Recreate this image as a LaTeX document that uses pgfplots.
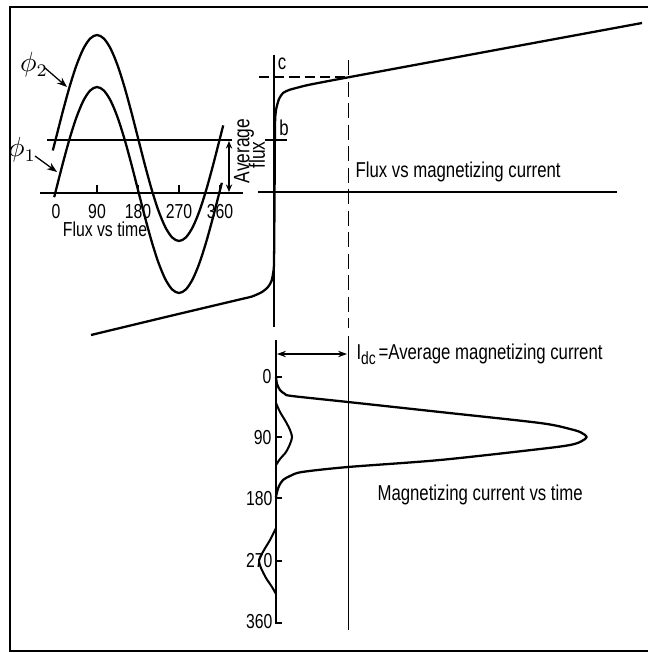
\documentclass[border=0pt]{standalone}
\usepackage{fontspec}
\setmainfont{Liberation Sans}
\usepackage{graphicx}
\usepackage{pgfplots}
\pgfplotsset{compat=1.18}
\usetikzlibrary{arrows.meta}
% condensed lettering, size in pt as optional argument
\newcommand\nt[2][8.5]{\fontsize{#1}{#1}\selectfont\scalebox{0.78}[1]{#2}}

\begin{document}
\begin{tikzpicture}
\begin{axis}[
    width=9cm, height=9.069cm, scale only axis,
    xmin=0, xmax=648, ymin=0, ymax=653, y dir=reverse,
    hide axis, clip=false,
]
% page extent
\addplot[draw=none] coordinates {(0,0) (648,653)};
% frame
\addplot[line width=0.8pt] coordinates {(648,7) (10,7) (10,651) (648,651)};

% ---- flux vs time (top left) ----
\addplot[line width=0.6pt] coordinates {(40,193) (243,193)};
\addplot[line width=0.6pt] coordinates {(47,140) (232,140)};
\addplot[line width=0.5pt] coordinates {(97,193) (97,185)};
\addplot[line width=0.5pt] coordinates {(138,193) (138,185)};
\addplot[line width=0.5pt] coordinates {(179,193) (179,185)};
\addplot[line width=0.5pt] coordinates {(220,193) (220,185)};
\addplot[line width=0.5pt, {Stealth[length=3pt,width=2.5pt]}-{Stealth[length=3pt,width=2.5pt]}]
    coordinates {(229,141) (229,192)};
% phi1
\addplot[line width=0.9pt, smooth] coordinates {
(54.2,197.2) (56,190) (62.83,163.34) (69.67,138.5) (76.5,117.17) (83.33,100.8)
(90.17,90.51) (97,87) (103.83,90.51) (110.67,100.8) (117.5,117.17) (124.33,138.5)
(131.17,163.34) (138,190) (144.83,216.66) (151.67,241.5) (158.5,262.83) (165.33,279.2)
(172.17,289.49) (179,293) (185.83,289.49) (192.67,279.2) (199.5,262.83) (206.33,241.5)
(213.17,216.66) (220,190) (221.8,182.8)
};
% phi2
\addplot[line width=0.9pt, smooth] coordinates {
(52.8,150.5) (56,138) (62.83,111.34) (69.67,86.5) (76.5,65.17) (83.33,48.8)
(90.17,38.51) (97,35) (103.83,38.51) (110.67,48.8) (117.5,65.17) (124.33,86.5)
(131.17,111.34) (138,138) (144.83,164.66) (151.67,189.5) (158.5,210.83) (165.33,227.2)
(172.17,237.49) (179,241) (185.83,237.49) (192.67,227.2) (199.5,210.83) (206.33,189.5)
(213.17,164.66) (220,138) (223.2,125.4)
};
% label arrows
\addplot[line width=0.5pt, -{Stealth[length=4pt,width=3pt]}] coordinates {(45,68) (67,87)};
\addplot[line width=0.5pt, -{Stealth[length=4pt,width=3pt]}] coordinates {(35,156) (57,172)};
\node[inner sep=0pt] at (axis cs:34,65) {\fontsize{10.5}{12}\selectfont$\phi_2$};
\node[inner sep=0pt] at (axis cs:22,150) {\fontsize{10.5}{12}\selectfont$\phi_1$};
\node[inner sep=0pt] at (axis cs:56,212) {\nt[8]{0}};
\node[inner sep=0pt] at (axis cs:97,212) {\nt[8]{90}};
\node[inner sep=0pt] at (axis cs:138,212) {\nt[8]{180}};
\node[inner sep=0pt] at (axis cs:179,212) {\nt[8]{270}};
\node[inner sep=0pt] at (axis cs:220,212) {\nt[8]{360}};
\node[inner sep=0pt] at (axis cs:105,229) {\nt[8]{Flux vs time}};
\node[inner sep=0pt, rotate=90] at (axis cs:244,151) {\nt[8.8]{Average}};
\node[inner sep=0pt, rotate=90] at (axis cs:257,155) {\nt[8.8]{flux}};

% ---- flux vs magnetizing current ----
\addplot[line width=0.6pt] coordinates {(274,55) (274,327)};
\addplot[line width=0.6pt] coordinates {(258,192) (617,192)};
\addplot[line width=0.5pt] coordinates {(265,140) (287,140)};
\addplot[line width=0.4pt, dash pattern=on 4pt off 2pt] coordinates {(259,77) (347,77)};
\addplot[line width=0.4pt, dash pattern=on 6pt off 2.5pt] coordinates {(348,60) (348,328)};
\addplot[line width=0.9pt, smooth, tension=0.4] coordinates {
(91,335) (170,316) (240,299.4) (252,296.5) (262,292) (268,287) (271.5,281)
(273.3,272) (274,262) (274.5,200) (275,125) (276,110) (279,99) (283,93)
(289,90) (298,87.5) (310,84.6) (350,77) (500,49.2) (642,23)
};
\node[inner sep=0pt] at (axis cs:282,64) {\nt{c}};
\node[inner sep=0pt] at (axis cs:284,128) {\nt{b}};
\node[inner sep=0pt, anchor=west] at (axis cs:355,172) {\nt{Flux vs magnetizing current}};

% ---- magnetizing current vs time ----
\addplot[line width=0.6pt] coordinates {(276,340) (276,623) (282,623)};
\addplot[line width=0.5pt] coordinates {(276,377) (282,377)};
\addplot[line width=0.5pt] coordinates {(276,437) (282,437)};
\addplot[line width=0.5pt] coordinates {(276,498) (282,498)};
\addplot[line width=0.5pt] coordinates {(276,561) (282,561)};
\addplot[line width=0.4pt] coordinates {(348,336) (348,630)};
\addplot[line width=0.5pt, {Stealth[length=3.5pt,width=2.5pt]}-{Stealth[length=3.5pt,width=2.5pt]}]
    coordinates {(277,354) (347,354)};
\addplot[line width=0.9pt, smooth, tension=0.5] coordinates {
(276,377) (277,384) (280,390) (285,394) (292,396) (348,402) (440,412) (540,423)
(570,429) (581,432.5) (586.5,437) (581,441.5) (570,445) (540,449) (440,460)
(348,467) (302,472) (290,476) (283,480) (279,486) (277,492) (276,497)
};
\addplot[line width=0.8pt, smooth] coordinates {
(276,403) (280,412) (286,422) (290,430) (292,437) (290,444) (286,452) (280,459) (276,465)
};
\addplot[line width=0.8pt, smooth, tension=0.4] coordinates {
(276,528) (270,540) (264,550) (259,560) (261,568) (266,578) (272,587) (276,594)
};
\node[inner sep=0pt, anchor=east] at (axis cs:272,377) {\nt[8]{0}};
\node[inner sep=0pt, anchor=east] at (axis cs:272,438) {\nt[8]{90}};
\node[inner sep=0pt, anchor=east] at (axis cs:273,499) {\nt[8]{180}};
\node[inner sep=0pt, anchor=east] at (axis cs:273,561) {\nt[8]{270}};
\node[inner sep=0pt, anchor=east] at (axis cs:273,622) {\nt[8]{360}};
\node[inner sep=0pt, anchor=west] at (axis cs:356,354) {\nt{I\raisebox{-0.45ex}{\fontsize{7}{7}\selectfont dc}\,=Average magnetizing current}};
\node[inner sep=0pt, anchor=west] at (axis cs:377,495) {\nt{Magnetizing current vs time}};
\end{axis}
\end{tikzpicture}
\end{document}
